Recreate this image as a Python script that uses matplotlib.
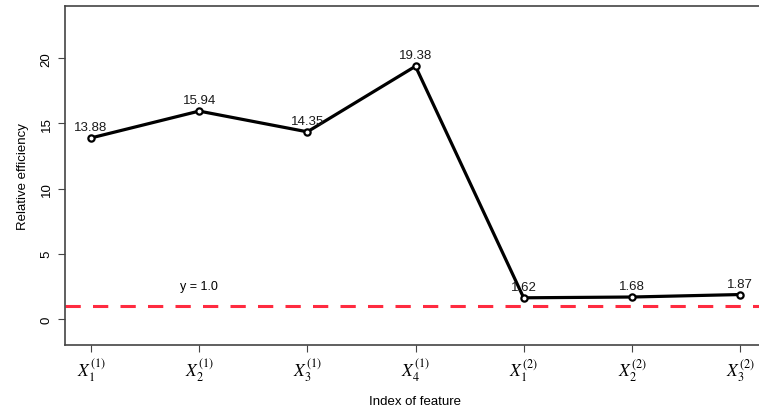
import matplotlib
matplotlib.use("Agg")
import matplotlib.pyplot as plt

plt.rcParams["font.family"] = ["Liberation Sans", "DejaVu Sans"]
plt.rcParams["mathtext.fontset"] = "stix"

# data
features = [r"$X_1^{(1)}$", r"$X_2^{(1)}$", r"$X_3^{(1)}$", r"$X_4^{(1)}$",
            r"$X_1^{(2)}$", r"$X_2^{(2)}$", r"$X_3^{(2)}$"]
efficiency = [13.88, 15.94, 14.35, 19.38, 1.62, 1.68, 1.87]
ref_level = 1.0
y_ticks = [0, 5, 10, 15, 20]

W, H = 759, 410
fig = plt.figure(figsize=(W / 100, H / 100), dpi=100)
ax = fig.add_axes([65 / W, (H - 346) / H, (766 - 65) / W, (346 - 7) / H])

xs = list(range(1, len(features) + 1))
ax.plot(xs, efficiency, color="black", lw=2.3, zorder=3)
ax.plot(xs, efficiency, "o", ms=4.5, mfc="white", mec="black", mew=1.6, zorder=4)
for x, v in zip(xs, efficiency):
    ax.annotate(f"{v:.2f}", (x, v), xytext=(0, 3.5), textcoords="offset points",
                ha="center", va="bottom", fontsize=9.5, color="#1a1a1a")

ax.axhline(ref_level, color="#ff2b40", lw=2.2, ls=(0, (5, 4)), zorder=2)
ax.text(2, 2.5, "y = 1.0", ha="center", va="center", fontsize=9)

ax.set_xlim(0.76, 7.24)
ax.set_ylim(-2, 24)
ax.set_xticks(xs)
ax.set_xticklabels(features, fontsize=12.5)
ax.set_yticks(y_ticks)
ax.set_yticklabels([str(t) for t in y_ticks], rotation=90, va="center", fontsize=9.5)
ax.tick_params(direction="out", length=5, color="#444444", pad=4)
ax.tick_params(axis="x", pad=3)
for s in ax.spines.values():
    s.set_color("#444444")
    s.set_linewidth(1.2)

# x label sits close to the bottom edge, as in the reference
fig.text(415 / W, 1 - 402 / H, "Index of feature", ha="center", va="center", fontsize=9.5)
ax.set_ylabel("Relative efficiency", fontsize=9.5, labelpad=8)

fig.savefig("out.png", dpi=100)
